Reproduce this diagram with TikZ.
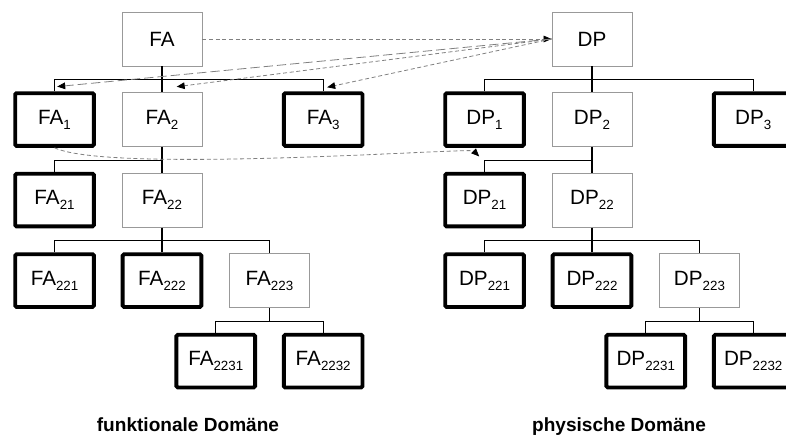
\documentclass[tikz,border=0pt]{standalone}
\usepackage{fontspec}
\setmainfont{Liberation Sans}
\usetikzlibrary{positioning, calc, arrows.meta}
\tikzset{
    node distance=60.4pt and 80.6pt, % rows and columns of both trees
    on grid,
    box/.style={rectangle, minimum width=60pt, minimum height=40.5pt, inner sep=0pt,
        font=\fontsize{15.5pt}{18pt}\selectfont},
    part/.style={box, draw=black!40, line width=0.7pt}, % split further
    leaf/.style={box, draw=black, line width=2.9pt, rounded corners=1pt,
        minimum width=59pt, minimum height=39.5pt}, % not split
    link/.style={draw=black, line width=0.9pt},
    flow/.style={draw=black!50, line width=0.6pt, dash pattern=on 3pt off 2pt,
        -{Triangle[black, length=6pt, width=5pt]}},
    longflow/.style={flow, dash pattern=on 7pt off 3pt},
    domlabel/.style={font=\bfseries\fontsize{14.3pt}{16pt}\selectfont, anchor=base},
}
\newcommand{\ix}[1]{\raisebox{-3.8pt}{\fontsize{10pt}{10pt}\selectfont #1}}

\begin{document}
\begin{tikzpicture}[x=0.75pt, y=-0.75pt]
    \clip (0,0) rectangle (786,435);

    % functional domain
    \node[part] (FA) at (162,39) {FA};
    \node[part, below=of FA] (FA2) {FA\ix{2}};
    \node[leaf, left=of FA2] (FA1) {FA\ix{1}};
    \node[leaf, right=120.9pt of FA2] (FA3) {FA\ix{3}};
    \node[leaf, below=of FA1] (FA21) {FA\ix{21}};
    \node[part, below=of FA2] (FA22) {FA\ix{22}};
    \node[leaf, below=of FA21] (FA221) {FA\ix{221}};
    \node[leaf, below=of FA22] (FA222) {FA\ix{222}};
    \node[part, right=of FA222] (FA223) {FA\ix{223}};
    \node[leaf, below left=60.4pt and 40.3pt of FA223] (FA2231) {FA\ix{2231}};
    \node[leaf, below right=60.4pt and 40.3pt of FA223] (FA2232) {FA\ix{2232}};

    % physical domain
    \node[part] (DP) at (592,39) {DP};
    \node[part, below=of DP] (DP2) {DP\ix{2}};
    \node[leaf, left=of DP2] (DP1) {DP\ix{1}};
    \node[leaf, right=120.9pt of DP2] (DP3) {DP\ix{3}};
    \node[leaf, below=of DP1] (DP21) {DP\ix{21}};
    \node[part, below=of DP2] (DP22) {DP\ix{22}};
    \node[leaf, below=of DP21] (DP221) {DP\ix{221}};
    \node[leaf, below=of DP22] (DP222) {DP\ix{222}};
    \node[part, right=of DP222] (DP223) {DP\ix{223}};
    \node[leaf, below left=60.4pt and 40.3pt of DP223] (DP2231) {DP\ix{2231}};
    \node[leaf, below right=60.4pt and 40.3pt of DP223] (DP2232) {DP\ix{2232}};

    % tree connectors
    \draw[link] (FA.south) -- (FA2.north);
    \path (FA.south) -- ++(0,-10pt) coordinate (busFA);
    \draw[link] (FA1.north) |- (busFA) -| (FA3.north);
    \draw[link] (FA2.south) -- (FA22.north);
    \path (FA2.south) -- ++(0,-10pt) coordinate (busFA2);
    \draw[link] (FA21.north) |- (busFA2);
    \draw[link] (FA22.south) -- (FA222.north);
    \path (FA22.south) -- ++(0,-10pt) coordinate (busFA22);
    \draw[link] (FA221.north) |- (busFA22) -| (FA223.north);
    \draw[link] (FA223.south) -- ++(0,-10pt) coordinate (busFA223);
    \draw[link] (FA2231.north) |- (busFA223) -| (FA2232.north);

    \draw[link] (DP.south) -- (DP2.north);
    \path (DP.south) -- ++(0,-10pt) coordinate (busDP);
    \draw[link] (DP1.north) |- (busDP) -| (DP3.north);
    \draw[link] (DP2.south) -- (DP22.north);
    \path (DP2.south) -- ++(0,-10pt) coordinate (busDP2);
    \draw[link] (DP21.north) |- (busDP2);
    \draw[link] (DP22.south) -- (DP222.north);
    \path (DP22.south) -- ++(0,-10pt) coordinate (busDP22);
    \draw[link] (DP221.north) |- (busDP22) -| (DP223.north);
    \draw[link] (DP223.south) -- ++(0,-10pt) coordinate (busDP223);
    \draw[link] (DP2231.north) |- (busDP223) -| (DP2232.north);

    % mapping between the domains
    \coordinate (toFA1) at ($(FA1.north)+(2pt,3.5pt)$);
    \coordinate (toFA2) at ($(FA2.north)+(11pt,4pt)$);
    \coordinate (toFA3) at ($(FA3.north)+(3pt,3pt)$);
    \coordinate (toDP1) at ($(DP1.south)+(-4pt,-6.5pt)$);
    \draw[flow] (FA.east) -- (DP.west);
    \draw[longflow] (DP.west) -- (toFA1);
    \draw[flow] (DP.west) -- (toFA2);
    \draw[flow] (DP.west) -- (toFA3);
    \draw[flow] (FA1.south) .. controls +(42pt,-19.5pt) and +(-6.75pt,6.75pt) .. (toDP1);

    \node[domlabel] (domFA) at (188,431.5) {funktionale Domäne};
    \node[domlabel] (domDP) at (619,431.5) {physische Domäne};
\end{tikzpicture}
\end{document}
